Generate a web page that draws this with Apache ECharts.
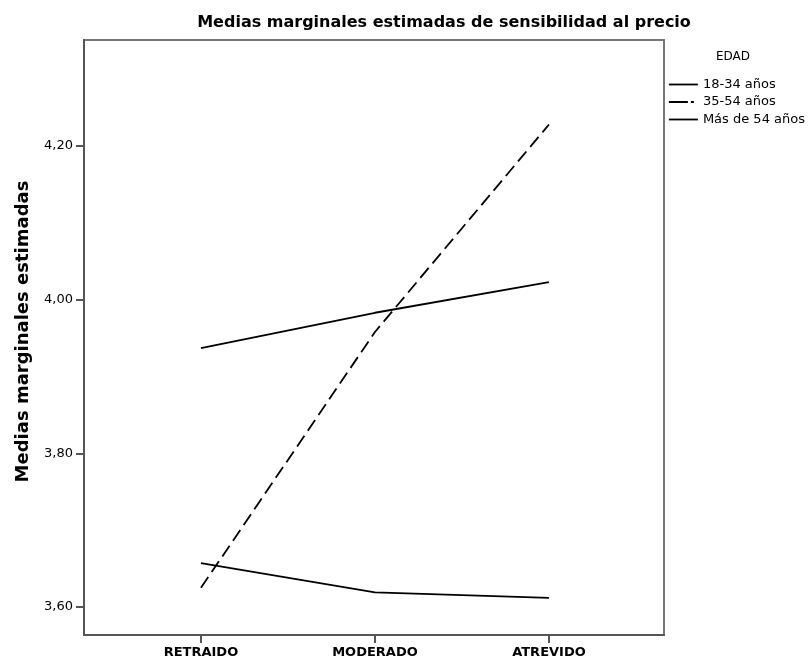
<!DOCTYPE html>
<html><head><meta charset="utf-8">
<script src="https://cdn.jsdelivr.net/npm/echarts@6/dist/echarts.min.js"></script>
<style>html,body{margin:0;padding:0;background:#fff}#c{width:808px;height:661px}</style>
</head><body><div id="c"></div>
<script>
const categories = ['RETRAIDO', 'MODERADO', 'ATREVIDO'];
const seriesNames = ['18-34 años', '35-54 años', 'Más de 54 años'];
const v18_34 = [3.937, 3.983, 4.023];
const v35_54 = [3.625, 3.958, 4.228];
const vMas54 = [3.657, 3.619, 3.612];
const yTicks = [3.6, 3.8, 4.0, 4.2];
const titleText = 'Medias marginales estimadas de sensibilidad al precio';
const yName = 'Medias marginales estimadas';
const legendTitle = 'EDAD';

const values = [v18_34, v35_54, vMas54];
const dashes = ['solid', [13, 6], 'solid'];
const legendDashes = ['solid', [19, 3, 3, 4], 'solid'];
const F = 'DejaVu Sans';

const chart = echarts.init(document.getElementById('c'));
chart.setOption({
  animation: false,
  backgroundColor: '#fff',
  title: [
    {text: titleText, left: 439, top: 10, textAlign: 'center',
     textStyle: {fontFamily: F, fontSize: 16, fontWeight: 'bold', color: '#000'}},
    {text: legendTitle, left: 716, top: 51, padding: 0,
     textStyle: {fontFamily: F, fontSize: 12, fontWeight: 'normal', color: '#000'}}
  ],
  legend: {
    orient: 'vertical', left: 668, top: 78, padding: 0, itemGap: 4.5, itemWidth: 29, itemHeight: 14,
    itemStyle: {opacity: 0},
    data: seriesNames.map((n, i) => ({name: n, lineStyle: {color: '#000', width: 1.8, type: legendDashes[i]}})),
    textStyle: {fontFamily: F, fontSize: 13, color: '#000'}
  },
  grid: {left: 84, right: 144, top: 40, bottom: 26, show: true, borderColor: '#777', borderWidth: 2, containLabel: false},
  xAxis: {
    type: 'value', min: -0.672, max: 2.661,
    axisLine: {show: true, onZero: false, lineStyle: {color: '#555', width: 2}},
    axisTick: {show: true, customValues: [0, 1, 2], length: 8, lineStyle: {color: '#555', width: 2}},
    axisLabel: {customValues: [0, 1, 2], formatter: v => categories[Math.round(v)], margin: 11,
      fontFamily: F, fontSize: 13, fontWeight: 'bold', color: '#000'},
    splitLine: {show: false}
  },
  yAxis: {
    type: 'value', min: 3.5636, max: 4.338,
    name: yName, nameLocation: 'middle', nameGap: 52, nameRotate: 90,
    nameTextStyle: {fontFamily: F, fontSize: 18, fontWeight: 'bold', color: '#000', padding: [0, 0, 0, 12]},
    axisLine: {show: true, onZero: false, lineStyle: {color: '#555', width: 2}},
    axisTick: {show: true, customValues: yTicks, length: 8, lineStyle: {color: '#555', width: 2}},
    axisLabel: {customValues: yTicks, formatter: v => v.toFixed(2).replace('.', ','), margin: 11,
      fontFamily: F, fontSize: 13, color: '#000'},
    splitLine: {show: false}
  },
  series: seriesNames.map((n, i) => ({
    name: n, type: 'line', symbol: 'none',
    data: values[i].map((v, j) => [j, v]),
    lineStyle: {color: '#000', width: 1.8, type: dashes[i]},
    itemStyle: {color: '#000'}
  }))
});
</script></body></html>
